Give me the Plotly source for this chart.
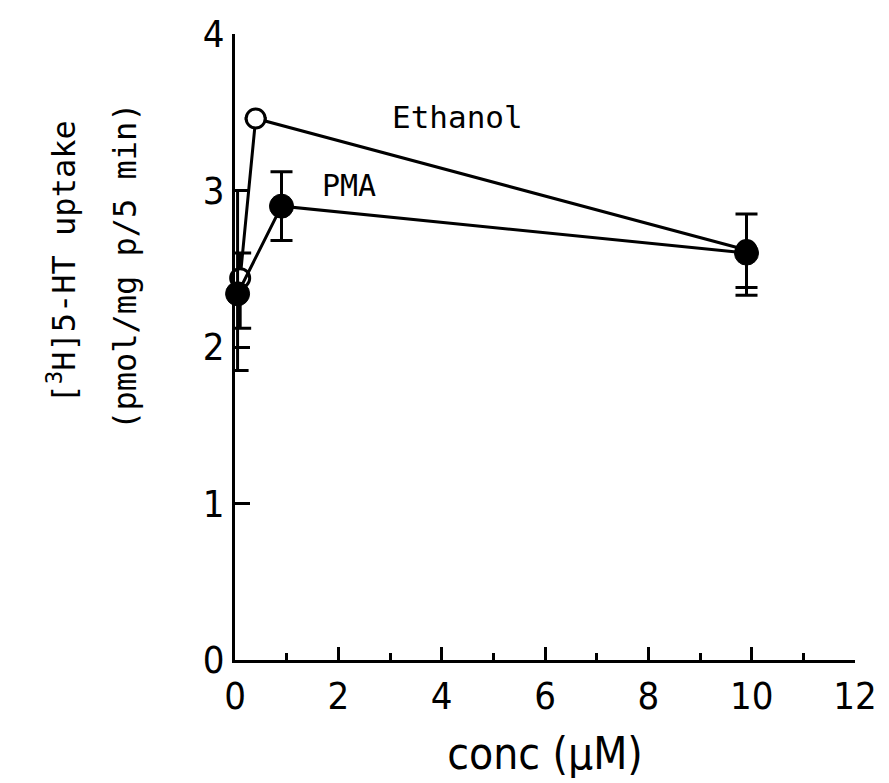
import plotly.graph_objects as go

# Data
eth_x = [0.1, 0.4, 9.9]
eth_y = [2.44, 3.46, 2.62]
eth_err_plus = [0.16, 0.0, 0.0]
eth_err_minus = [0.32, 0.0, 0.29]

pma_x = [0.05, 0.9, 9.9]
pma_y = [2.34, 2.90, 2.60]
pma_err_plus = [0.66, 0.22, 0.25]
pma_err_minus = [0.49, 0.22, 0.22]

x_ticks = [0, 2, 4, 6, 8, 10, 12]
y_ticks = [0, 1, 2, 3, 4]

num_font = "DejaVu Sans Condensed, Liberation Sans Narrow, Liberation Sans, sans-serif"
mono_font = "DejaVu Sans Mono, Liberation Mono, monospace"

fig = go.Figure()

fig.add_trace(go.Scatter(
    x=eth_x, y=eth_y, mode="lines+markers", name="Ethanol",
    line=dict(color="black", width=3),
    marker=dict(symbol="circle", size=19, color="white", line=dict(color="black", width=3)),
    error_y=dict(type="data", symmetric=False, array=eth_err_plus, arrayminus=eth_err_minus,
                 color="black", thickness=3, width=11),
    cliponaxis=False,
))
fig.add_trace(go.Scatter(
    x=pma_x, y=pma_y, mode="lines+markers", name="PMA",
    line=dict(color="black", width=3),
    marker=dict(symbol="circle", size=24, color="black", line=dict(color="black", width=1)),
    error_y=dict(type="data", symmetric=False, array=pma_err_plus, arrayminus=pma_err_minus,
                 color="black", thickness=3, width=11),
    cliponaxis=False,
))

fig.add_annotation(x=4.3, y=3.47, xref="x", yref="y", text="Ethanol", showarrow=False,
                   font=dict(family=mono_font, size=31, color="black"))
fig.add_annotation(x=2.2, y=3.03, xref="x", yref="y", text="PMA", showarrow=False,
                   font=dict(family=mono_font, size=30, color="black"))

# y-axis title as two rotated annotations
fig.add_annotation(x=-0.279, y=0.635, xref="paper", yref="paper",
                   xanchor="center", yanchor="middle",
                   text="[<sup>3</sup>H]5-HT uptake",
                   textangle=-90, showarrow=False,
                   font=dict(family=mono_font, size=32, color="black"))
fig.add_annotation(x=-0.1786, y=0.63, xref="paper", yref="paper",
                   xanchor="center", yanchor="middle",
                   text="(pmol/mg p/5 min)",
                   textangle=-90, showarrow=False,
                   font=dict(family=mono_font, size=32, color="black"))

fig.update_xaxes(
    range=[0, 12], tickvals=x_ticks, ticktext=[str(v) for v in x_ticks],
    showline=True, linecolor="black", linewidth=3, mirror=False,
    ticks="inside", ticklen=13, tickwidth=2.5, tickcolor="black",
    minor=dict(dtick=1, ticks="inside", ticklen=7, tickwidth=2.5, tickcolor="black", showgrid=False),
    showgrid=False, zeroline=False,
    tickfont=dict(family=num_font, size=38, color="black"),
    title=dict(text="conc (\u03bcM)", font=dict(family=num_font, size=44, color="black"), standoff=22),
)
fig.update_yaxes(
    range=[0, 4], tickvals=y_ticks, ticktext=[str(v) for v in y_ticks],
    showline=True, linecolor="black", linewidth=3,
    ticks="inside", ticklen=15, tickwidth=2.5, tickcolor="black",
    showgrid=False, zeroline=False,
    tickfont=dict(family=num_font, size=38, color="black"),
)

fig.update_layout(
    width=889, height=783,
    margin=dict(l=235, r=27, t=33, b=123),
    plot_bgcolor="white", paper_bgcolor="white",
    showlegend=False,
)

fig.write_html("out.html")
